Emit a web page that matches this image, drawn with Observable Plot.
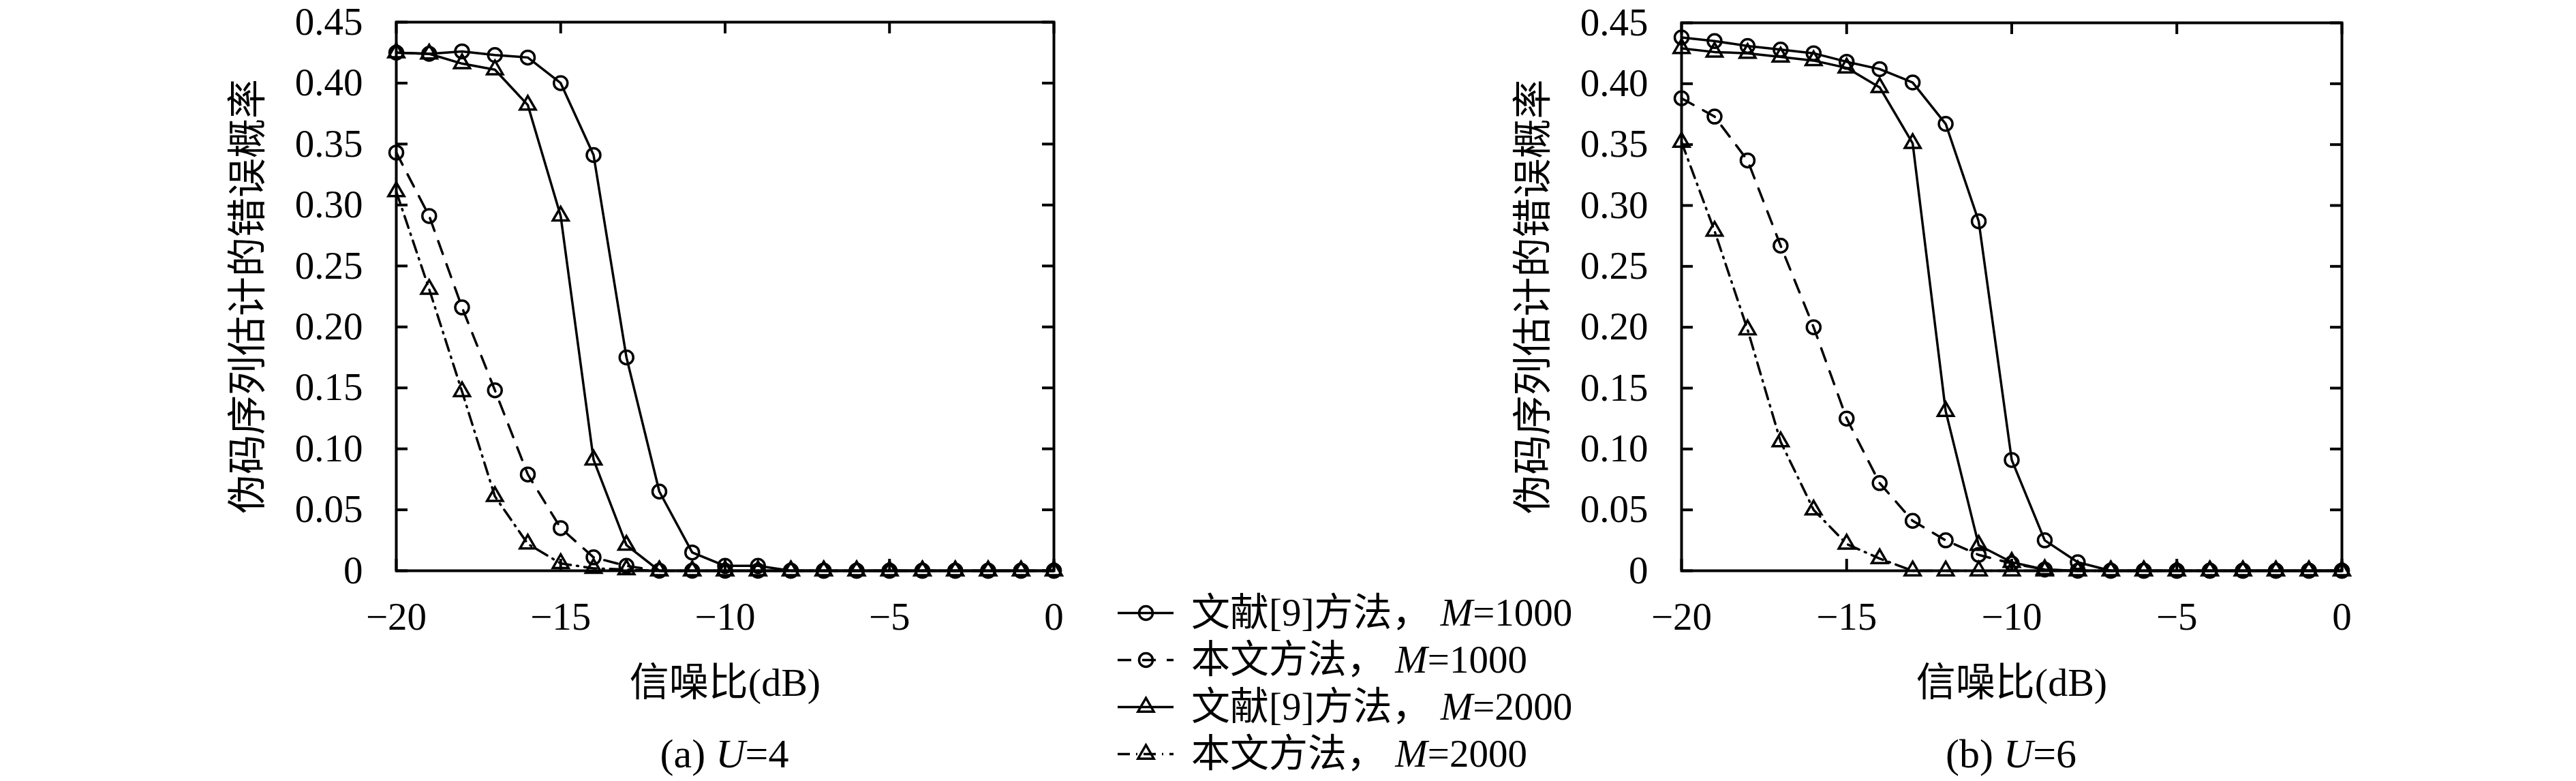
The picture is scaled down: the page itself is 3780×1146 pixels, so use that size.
<!DOCTYPE html>
<html>
<head>
<meta charset="utf-8">
<script src="https://cdn.jsdelivr.net/npm/d3@7"></script>
<script src="https://cdn.jsdelivr.net/npm/@observablehq/plot@0.6"></script>
<style>
  html, body { margin: 0; padding: 0; background: #fff; }
  body { width: 3780px; height: 1146px; position: relative; overflow: hidden;
         font-family: "Liberation Serif", "Noto Sans CJK SC", serif; color: #000; }
  .panel { position: absolute; top: 0; }
  .caption { position: absolute; font-size: 60px; line-height: 60px; white-space: nowrap; transform: translateX(-50%); }
  #legend { position: absolute; left: 1640px; top: 864px; z-index: 2; }
  .row { display: flex; align-items: center; height: 69px; }
  .row svg { display: block; }
  .row .txt { margin-left: 26px; font-size: 57px; line-height: 60px; white-space: nowrap; }
</style>
</head>
<body>
<div id="left" class="panel" style="left:0px"></div>
<div id="right" class="panel" style="left:1880px"></div>
<div id="legend"></div>
<div id="capA" class="caption" style="left:1063px; top:1076px"></div>
<div id="capB" class="caption" style="left:2951px; top:1076px"></div>
<script>
// ---------------- data ----------------
const snr = [-20, -19, -18, -17, -16, -15, -14, -13, -12, -11, -10, -9, -8, -7, -6, -5, -4, -3, -2, -1, 0];
const xTicks = [-20, -15, -10, -5, 0];
const yTicks = [0, 0.05, 0.10, 0.15, 0.20, 0.25, 0.30, 0.35, 0.40, 0.45];
const xLabel = "信噪比(dB)";
const yLabel = "伪码序列估计的错误概率";
const seriesMethod = ["文献[9]方法，", "本文方法，", "文献[9]方法，", "本文方法，"];
const seriesM = ["1000", "1000", "2000", "2000"];
const captions = [["(a) ", "U", "=4"], ["(b) ", "U", "=6"]];

// U = 4
const ref1000_U4  = [0.425, 0.424, 0.426, 0.423, 0.421, 0.400, 0.341, 0.175, 0.065, 0.015, 0.004, 0.004, 0, 0, 0, 0, 0, 0, 0, 0, 0];
const ours1000_U4 = [0.343, 0.291, 0.216, 0.148, 0.079, 0.035, 0.011, 0.004, 0, 0, 0, 0, 0, 0, 0, 0, 0, 0, 0, 0, 0];
const ref2000_U4  = [0.425, 0.424, 0.416, 0.411, 0.382, 0.291, 0.091, 0.021, 0, 0, 0, 0, 0, 0, 0, 0, 0, 0, 0, 0, 0];
const ours2000_U4 = [0.311, 0.231, 0.147, 0.061, 0.022, 0.006, 0.002, 0.001, 0, 0, 0, 0, 0, 0, 0, 0, 0, 0, 0, 0, 0];
// U = 6
const ref1000_U6  = [0.438, 0.435, 0.431, 0.428, 0.425, 0.418, 0.412, 0.401, 0.367, 0.287, 0.091, 0.025, 0.007, 0, 0, 0, 0, 0, 0, 0, 0];
const ours1000_U6 = [0.388, 0.373, 0.337, 0.267, 0.200, 0.125, 0.072, 0.041, 0.025, 0.013, 0.006, 0.001, 0, 0, 0, 0, 0, 0, 0, 0, 0];
const ref2000_U6  = [0.429, 0.426, 0.425, 0.422, 0.419, 0.413, 0.397, 0.351, 0.131, 0.021, 0.007, 0.001, 0, 0, 0, 0, 0, 0, 0, 0, 0];
const ours2000_U6 = [0.352, 0.279, 0.198, 0.106, 0.050, 0.022, 0.010, 0, 0, 0, 0, 0, 0, 0, 0, 0, 0, 0, 0, 0, 0];

// ---------------- styles ----------------
const FONT = '"Liberation Serif", "Noto Sans CJK SC", serif';
const dashes = [null, "20,16", null, "18,9,2,9"];
const symbols = ["circle", "circle", "triangle", "triangle"];
const radii = [10, 10, 8.6, 8.6];
const LW = 3.5;

const fmtX = d => d < 0 ? "\u2212" + Math.abs(d) : String(d);
const fmtY = d => d === 0 ? "0" : d3.format(".2f")(d);

function panel(values, {width, height, mL, mR, mT, mB}) {
  const fw = width - mL - mR, fh = height - mT - mB, tl = 17;
  const dataMarks = [];
  values.forEach((vals, i) => {
    const data = snr.map((x, j) => ({x, y: vals[j]}));
    dataMarks.push(Plot.line(data, {x: "x", y: "y", stroke: "black", strokeWidth: LW,
      strokeDasharray: dashes[i] ?? undefined}));
    dataMarks.push(Plot.dot(data, {x: "x", y: "y", symbol: symbols[i], r: radii[i],
      stroke: "black", strokeWidth: LW, fill: "none"}));
  });
  return Plot.plot({
    width, height,
    marginLeft: mL, marginRight: mR, marginTop: mT, marginBottom: mB,
    x: {domain: [-20, 0]},
    y: {domain: [0, 0.45]},
    style: {background: "transparent", fontFamily: FONT, fontSize: "57px", color: "black", overflow: "visible"},
    marks: [
      Plot.axisX(xTicks, {tickSize: 0, tickPadding: 46, tickFormat: fmtX, fontSize: 57, label: null}),
      Plot.axisY(yTicks, {tickSize: 0, tickPadding: 49, tickFormat: fmtY, fontSize: 57, label: null}),
      Plot.tickY(yTicks, {y: d => d, insetRight: fw - tl, stroke: "black", strokeWidth: 4}),
      Plot.tickY(yTicks, {y: d => d, insetLeft: fw - tl, stroke: "black", strokeWidth: 4}),
      Plot.tickX(xTicks, {x: d => d, insetTop: fh - tl, stroke: "black", strokeWidth: 4}),
      Plot.tickX(xTicks, {x: d => d, insetBottom: fh - tl, stroke: "black", strokeWidth: 4}),
      ...dataMarks,
      Plot.frame({stroke: "black", strokeWidth: 4}),
      Plot.text([yLabel], {text: d => d, frameAnchor: "left", dx: -217, rotate: -90,
        textAnchor: "middle", lineAnchor: "middle", fontSize: 58, fill: "black"}),
      Plot.text([xLabel], {text: d => d, frameAnchor: "bottom", dy: 165,
        textAnchor: "middle", lineAnchor: "middle", fontSize: 58, fill: "black"})
    ]
  });
}

document.getElementById("left").append(
  panel([ref1000_U4, ours1000_U4, ref2000_U4, ours2000_U4], {width: 1600, height: 1050, mL: 581, mR: 54, mT: 32, mB: 213})
);
document.getElementById("right").append(
  panel([ref1000_U6, ours1000_U6, ref2000_U6, ours2000_U6], {width: 1900, height: 1050, mL: 587, mR: 344, mT: 33, mB: 213})
);

// ---------------- legend ----------------
const legend = document.getElementById("legend");
seriesMethod.forEach((name, i) => {
  const row = document.createElement("div");
  row.className = "row";
  const sw = Plot.plot({
    width: 82, height: 40, margin: 0,
    x: {domain: [0, 1], axis: null},
    y: {domain: [0, 1], axis: null},
    style: {background: "transparent", overflow: "visible"},
    marks: [
      Plot.ruleY([0.5], {stroke: "black", strokeWidth: LW, strokeDasharray: dashes[i] ?? undefined}),
      Plot.dot([{x: 0.5, y: 0.5}], {x: "x", y: "y", symbol: symbols[i], r: radii[i], stroke: "black", strokeWidth: LW, fill: "none"})
    ]
  });
  row.append(sw);
  const txt = document.createElement("div");
  txt.className = "txt";
  txt.append(document.createTextNode(name + " "));
  const it = document.createElement("i");
  it.textContent = "M";
  txt.append(it);
  txt.append(document.createTextNode("=" + seriesM[i]));
  row.append(txt);
  legend.append(row);
});

// ---------------- captions ----------------
["capA", "capB"].forEach((id, k) => {
  const el = document.getElementById(id);
  const [a, u, b] = captions[k];
  el.append(document.createTextNode(a));
  const it = document.createElement("i");
  it.textContent = u;
  el.append(it);
  el.append(document.createTextNode(b));
});
</script>
</body>
</html>
